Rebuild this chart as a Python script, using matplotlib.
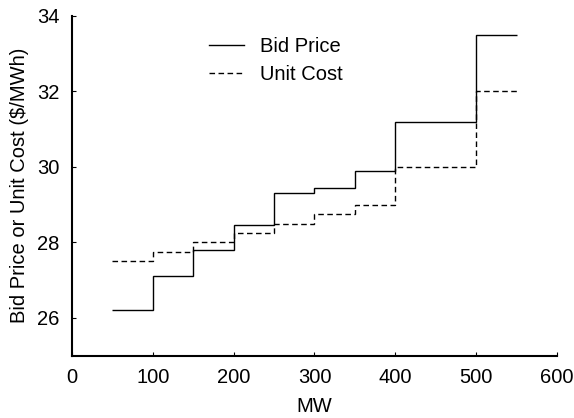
import matplotlib

matplotlib.use("Agg")
import matplotlib.pyplot as plt

# step edges (MW) and the level held over each step
mw_edges = [50, 100, 150, 200, 250, 300, 350, 400, 500, 550]
bid_price = [26.2, 27.1, 27.8, 28.45, 29.3, 29.45, 29.9, 31.2, 33.5]
unit_cost = [27.5, 27.75, 28.0, 28.25, 28.5, 28.75, 29.0, 30.0, 32.0]

plt.rcParams.update({
    "font.family": ["Liberation Sans", "DejaVu Sans"], "font.size": 14.5,
})

fig = plt.figure(figsize=(5.74, 4.18), dpi=100)
ax = fig.add_axes([0.1254, 0.149, 0.845, 0.813])

ax.stairs(bid_price, mw_edges, baseline=None, color="black", linewidth=1.0,
          label="Bid Price")
ax.stairs(unit_cost, mw_edges, baseline=None, color="black", linewidth=1.0,
          linestyle=(0, (4, 2.5)), label="Unit Cost")

ax.set_xlim(0, 600)
ax.set_ylim(25, 34)
ax.set_xticks(range(0, 601, 100))
ax.set_yticks([26, 28, 30, 32, 34])
ax.tick_params(direction="in", length=3, width=0.8, pad=9)
ax.set_xlabel("MW", labelpad=7)
ax.set_ylabel("Bid Price or Unit Cost ($/MWh)", labelpad=6)
for s in ("top", "right"):
    ax.spines[s].set_visible(False)
for s in ("left", "bottom"):
    ax.spines[s].set_linewidth(1.5)

ax.legend(loc="upper left", bbox_to_anchor=(0.245, 0.99), frameon=False,
          handlelength=1.75, handletextpad=0.8, labelspacing=0.45, fontsize=14.5)

fig.savefig("out.png", dpi=100)
